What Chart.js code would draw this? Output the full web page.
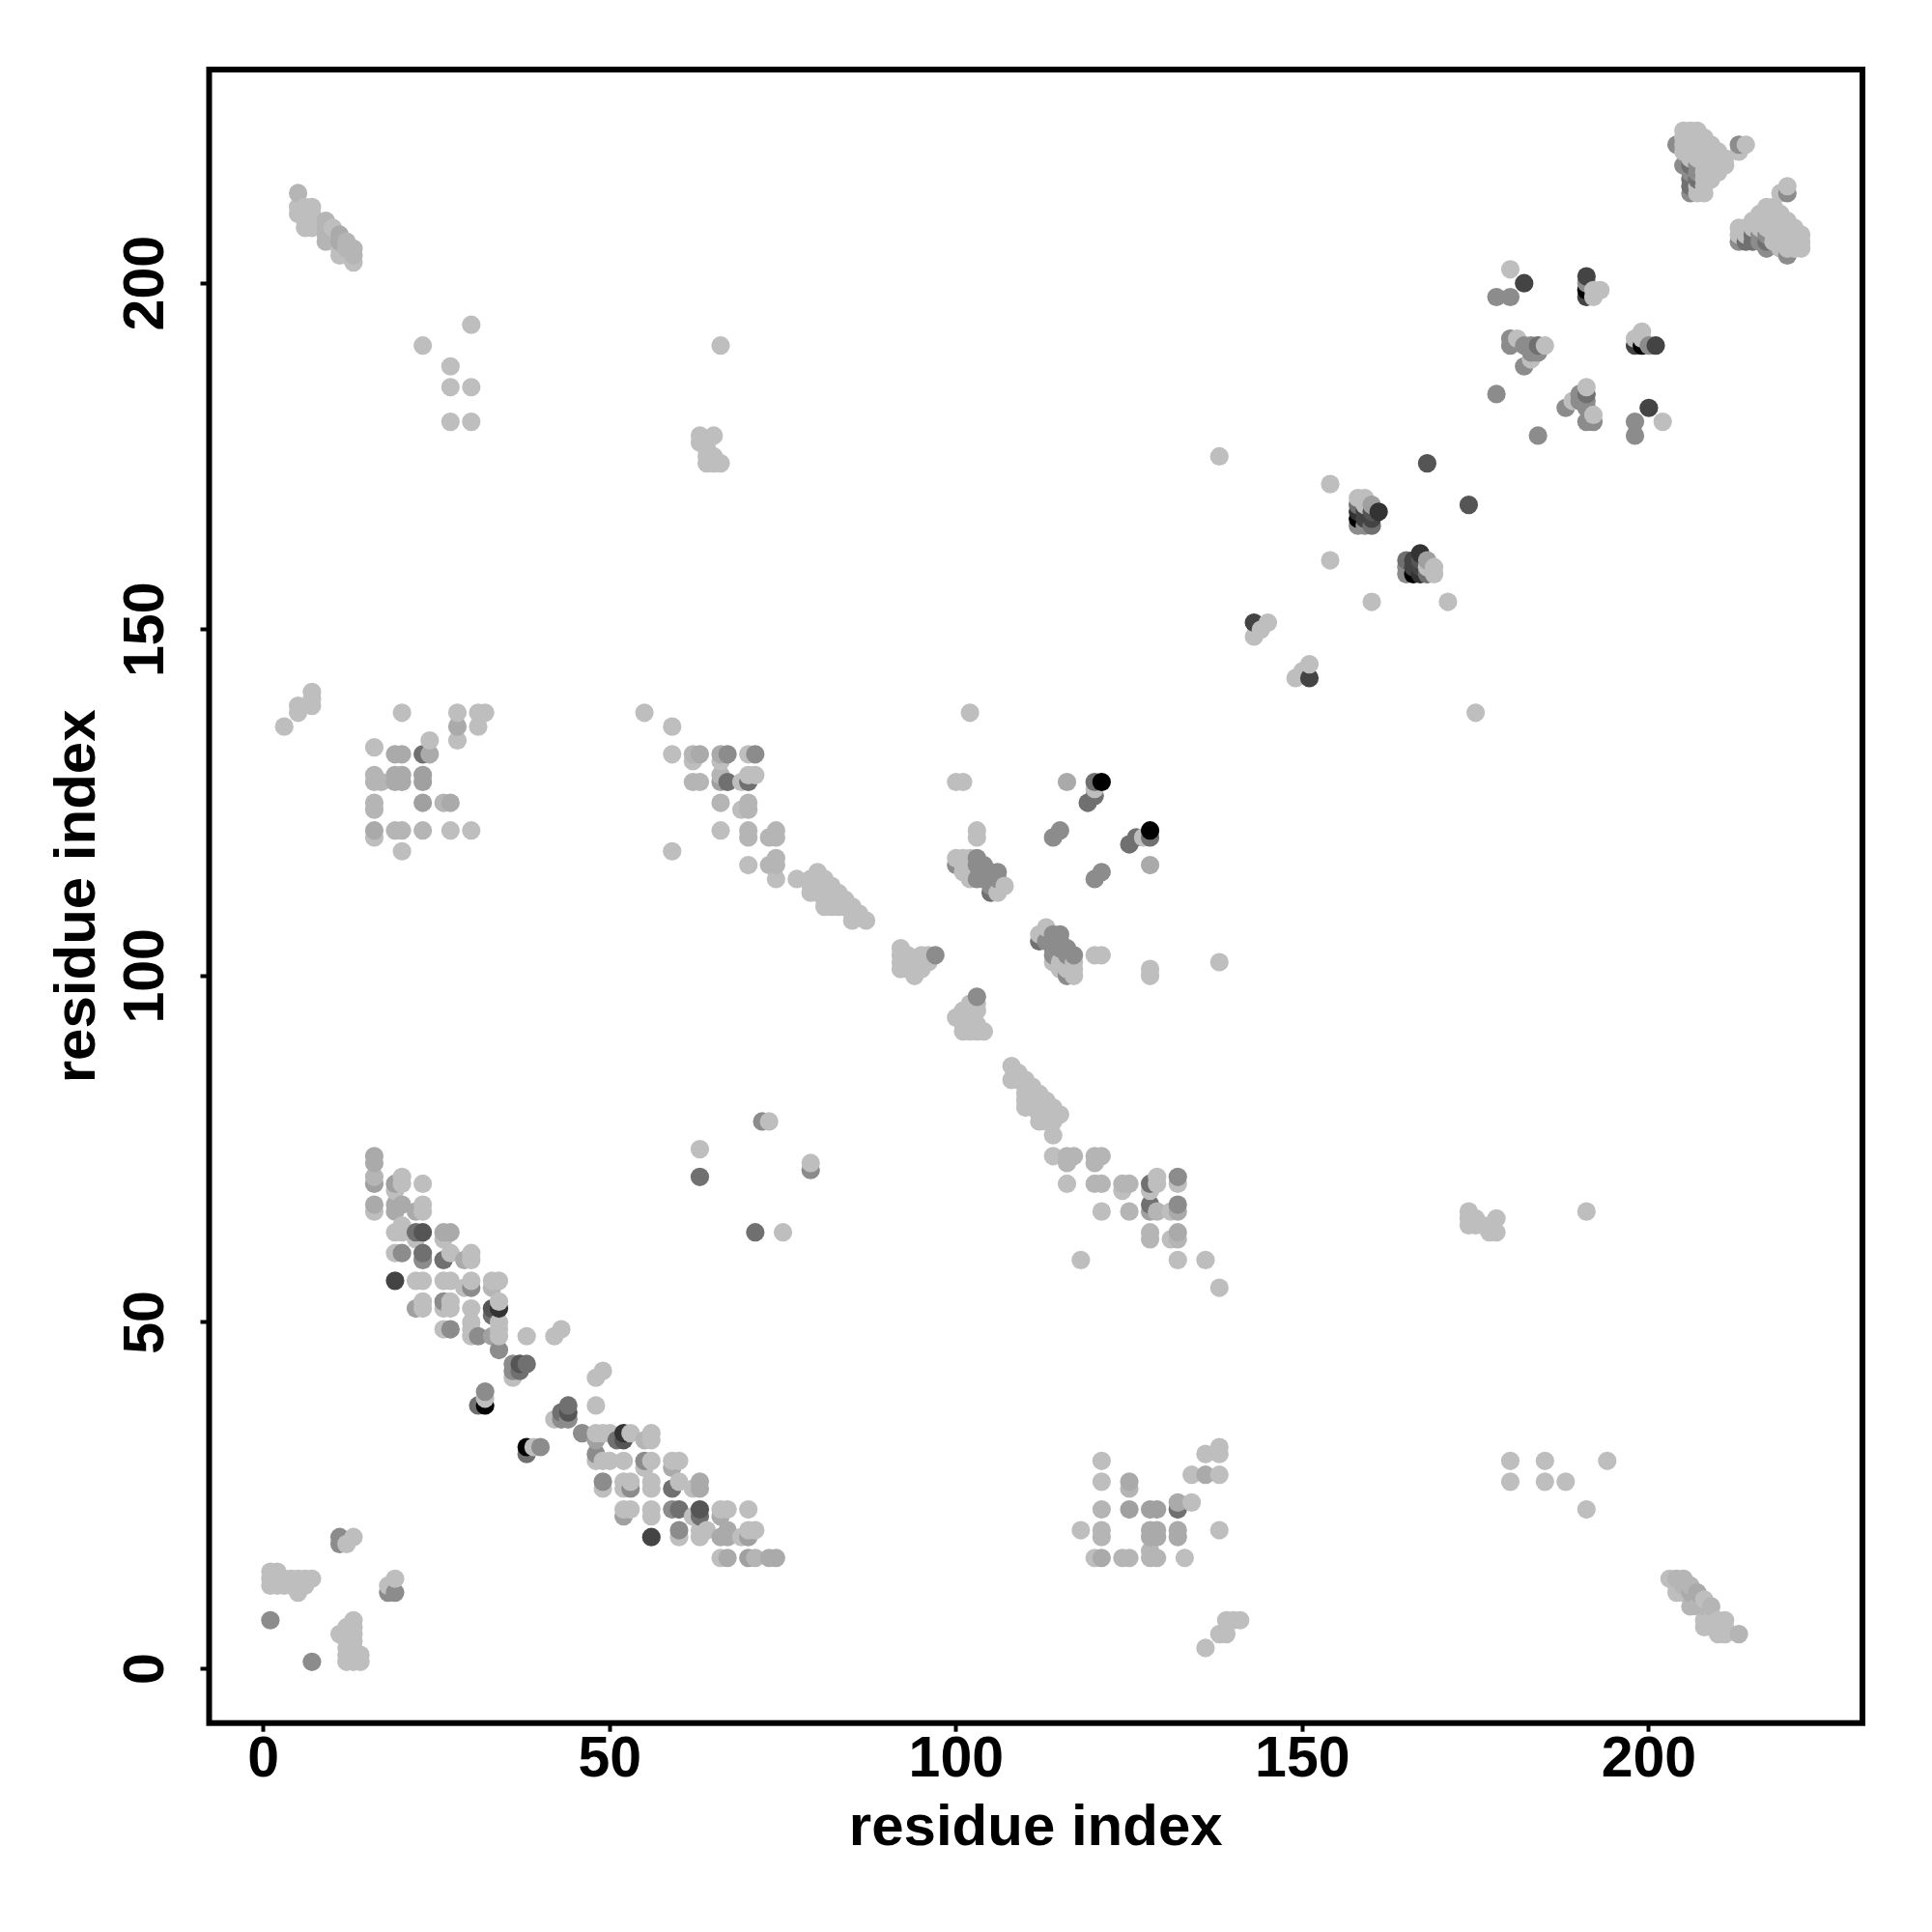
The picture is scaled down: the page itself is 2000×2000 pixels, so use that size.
<!DOCTYPE html>
<html>
<head>
<meta charset="utf-8">
<style>html,body{margin:0;padding:0;background:#fff}canvas{display:block}</style>
<script src="https://cdn.jsdelivr.net/npm/chart.js@4"></script>
</head>
<body>
<canvas id="c" width="2000" height="2000"></canvas>
<script>
// Contact pairs (i<j); the map is symmetric, so each pair is shown at (i,j) and (j,i).
const axisTitle = "residue index";
const tickValues = [0, 50, 100, 150, 200];
const tone00 = [[32,38],[158,166],[191,199],[121,128]];
const tone33 = [[34,52],[158,167],[161,167]];
const tone44 = [[19,56],[143,151],[182,200],[159,167],[159,166],[160,166],[191,201],[191,198]];
const tone55 = [[23,63],[37,44],[33,52],[160,167],[168,174]];
const tone70 = [[22,63],[23,60],[26,59],[33,51],[37,43],[38,44],[31,38],[63,71],[158,168],[160,165],[184,191],[206,217],[206,215],[207,215],[206,214],[120,128],[67,128],[70,128],[23,132],[120,126],[119,125],[105,112]];
const tone8c = [[20,60],[23,59],[27,49],[30,55],[31,48],[34,46],[36,44],[36,43],[32,40],[26,53],[1,7],[11,19],[11,18],[72,79],[67,132],[71,132],[97,103],[100,116],[103,117],[103,116],[103,114],[104,116],[104,115],[104,114],[105,115],[105,114],[105,113],[106,115],[106,114],[114,120],[115,121],[178,184],[178,198],[180,198],[180,192],[180,191],[182,191],[183,191],[183,190],[184,190],[182,188],[191,200],[204,220],[213,220],[205,217],[206,216],[207,217],[207,216],[206,213],[158,165],[159,165]];
const toneA0 = [[16,70],[19,70],[22,52],[33,48],[23,129],[23,128],[23,125],[66,128],[160,168]];
const toneA8 = [[16,74],[16,73],[16,67],[19,67],[19,66],[20,67],[22,66],[26,63],[27,63],[29,59],[63,132],[66,132],[19,132],[20,132],[27,125],[116,128],[24,132],[19,128],[19,129],[20,129],[20,128],[28,136],[16,121],[11,207],[11,206]];
const toneB4 = [[16,71],[33,55],[9,209],[9,208],[9,207],[9,206],[16,128],[16,129],[17,128],[16,125],[16,124],[26,125],[23,121],[19,121],[20,121],[62,132],[63,128],[62,128],[66,129],[66,125],[70,125],[70,124],[70,121],[70,120],[73,120],[74,121],[74,120],[74,117],[74,116],[73,116],[13,205],[13,204],[12,205],[12,206],[5,213]];
const toneBE = [[1,14],[2,14],[1,13],[2,13],[3,13],[1,12],[2,12],[3,12],[4,12],[5,12],[5,13],[6,13],[7,13],[6,12],[5,11],[4,13],[12,18],[13,19],
[16,66],[19,69],[19,63],[19,60],[20,71],[20,70],[20,64],[20,63],[22,62],[22,56],[23,70],[23,67],[23,66],[23,56],[23,53],[23,52],[26,62],[26,56],[26,52],[26,49],[27,60],[27,56],[27,53],[27,52],[29,55],[30,60],[30,59],[30,56],[30,52],[30,50],[30,49],[30,48],[33,56],[34,56],[34,53],[34,50],[34,49],[34,48],[38,48],[42,48],[43,49],[36,42],[32,39],[63,75],[73,79],[20,118],
[3,136],[5,139],[5,138],[7,141],[7,140],[7,139],[20,138],[16,133],[24,134],[28,138],[28,134],[31,138],[32,138],[31,136],[16,120],[27,121],[30,121],[23,191],[30,194],[27,188],[27,185],[30,185],[27,180],[30,180],[66,191],[63,178],[63,177],[65,178],[64,177],[64,176],[64,175],[65,175],[64,174],[65,174],[66,174],
[5,211],[5,210],[6,211],[6,210],[7,211],[7,210],[7,209],[6,208],[7,208],[6,209],[10,208],[11,205],[11,204],[12,204],[13,203],
[55,138],[59,136],[59,132],[59,118],[62,131],[66,131],[66,121],[69,128],[70,132],[70,129],[71,129],[69,124],[70,116],[74,114],[138,175],
[77,114],[79,114],[79,113],[79,112],[80,115],[80,114],[80,113],[80,112],[81,114],[81,113],[81,112],[81,111],[81,110],[82,113],[82,112],[82,111],[82,110],[83,112],[83,111],[83,110],[84,111],[84,110],[85,110],[85,109],[85,108],[86,109],[87,108],
[92,104],[92,103],[92,102],[92,101],[93,103],[93,102],[93,101],[94,102],[94,101],[94,100],[95,103],[95,102],[95,101],[96,103],[96,102],
[100,128],[101,128],[102,138],[103,121],[103,120],[120,127],[100,117],[101,117],[101,116],[102,117],[102,116],[102,115],[102,114],[101,115],[106,112],[107,113],
[143,149],[144,150],[145,151],[154,171],[154,160],[158,169],[159,169],[159,168],[180,202],[192,199],[192,198],[193,199],[181,192],[185,191],[183,189],
[205,222],[206,222],[207,222],[205,221],[206,221],[207,221],[208,221],[205,220],[206,220],[207,220],[208,220],[209,220],[205,219],[206,219],[207,219],[208,219],[209,219],[210,219],[206,218],[207,218],[208,218],[209,218],[210,218],[211,218],[208,217],[209,217],[210,217],[211,217],[208,216],[209,216],[210,216],[208,215],[209,215],[207,214],[208,214],[207,213],[208,213],[213,219],[214,220]];

const toneGroups = [
  ["#000000", tone00], ["#333333", tone33], ["#444444", tone44], ["#555555", tone55],
  ["#707070", tone70], ["#8c8c8c", tone8c], ["#a0a0a0", toneA0], ["#aaaaaa", toneA8],
  ["#b5b5b5", toneB4], ["#bebebe", toneBE]
];

const points = [];
toneGroups.forEach(([color, pairs]) => pairs.forEach(([i, j]) => {
  points.push({x: i, y: j, color});
  points.push({x: j, y: i, color});
}));
points.sort((a, b) => a.x - b.x || a.y - b.y);

const frame = {
  id: "frame",
  afterDatasetsDraw(chart) {
    const {ctx, chartArea: a} = chart;
    ctx.save();
    ctx.strokeStyle = "#000";
    ctx.lineWidth = 6;
    ctx.strokeRect(a.left, a.top, a.right - a.left, a.bottom - a.top);
    ctx.restore();
  }
};

const FONT = "'Liberation Sans', Arial, sans-serif";
const axisCommon = {
  type: "linear",
  min: -7.84,
  max: 230.84,
  border: {display: false},
  grid: {drawOnChartArea: false, drawTicks: true, tickLength: 9, tickWidth: 4, tickColor: "#000"},
};
new Chart(document.getElementById("c"), {
  type: "scatter",
  data: {datasets: [{
    data: points.map(p => ({x: p.x, y: p.y})),
    pointBackgroundColor: points.map(p => p.color),
    pointBorderWidth: 0,
    pointRadius: 9.6,
    showLine: false
  }]},
  options: {
    responsive: false,
    animation: false,
    layout: {padding: {top: 72, right: 72, left: 0, bottom: 0}},
    plugins: {legend: {display: false}, tooltip: {enabled: false}},
    scales: {
      x: {...axisCommon,
        afterFit(s) { s.height = 216.3; },
        afterBuildTicks(s) { s.ticks = tickValues.map(value => ({value})); },
        ticks: {autoSkip: false, includeBounds: false, color: "#000", padding: -5, maxRotation: 0, minRotation: 0,
          font: {family: FONT, size: 59, weight: "bold"}},
        title: {display: true, text: axisTitle, color: "#000", padding: {top: 0, bottom: 70.5},
          font: {family: FONT, size: 60, weight: "bold"}}
      },
      y: {...axisCommon,
        afterFit(s) { s.width = 216.5; },
        afterBuildTicks(s) { s.ticks = tickValues.map(value => ({value})); },
        ticks: {autoSkip: false, includeBounds: false, color: "#000", padding: 6, crossAlign: "center", maxRotation: 90, minRotation: 90,
          font: {family: FONT, size: 59, weight: "bold"}},
        title: {display: true, text: axisTitle, color: "#000", padding: {top: 45.5, bottom: 0},
          font: {family: FONT, size: 60, weight: "bold"}}
      }
    }
  },
  plugins: [frame]
});
</script>
</body>
</html>
